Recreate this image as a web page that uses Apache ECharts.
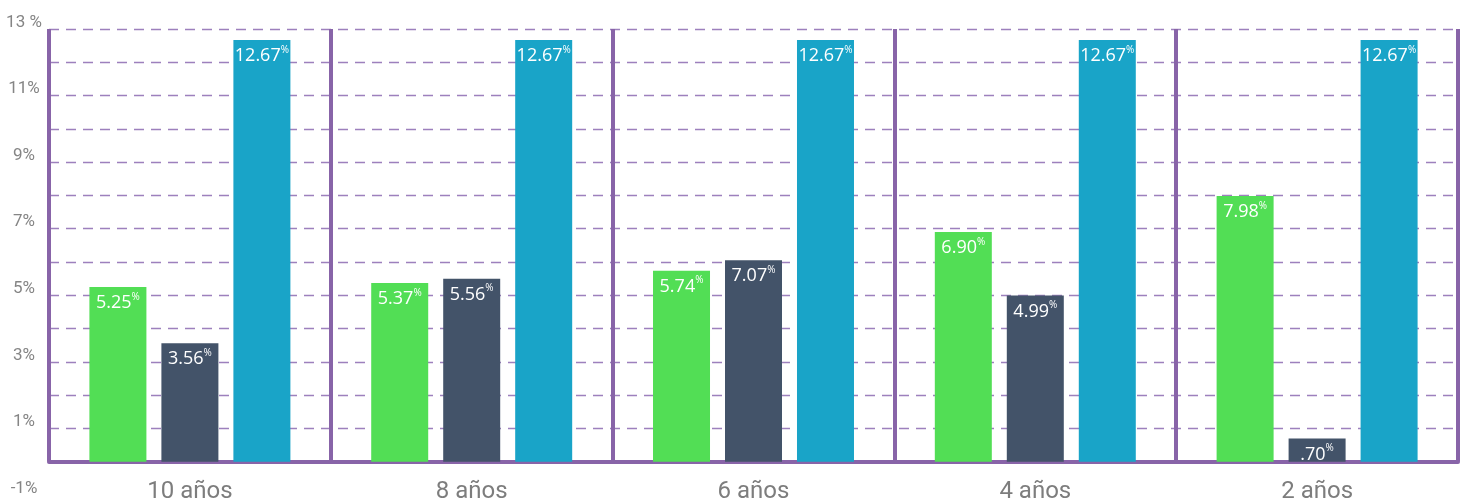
<!DOCTYPE html>
<html>
<head>
<meta charset="utf-8">
<script src="https://cdn.jsdelivr.net/npm/echarts@6/dist/echarts.min.js"></script>
<style>
html,body{margin:0;padding:0;background:#fff;}
#chart{width:1466px;height:504px;}
</style>
</head>
<body>
<div id="chart"></div>
<script>
// ---- data ----
var categories = ['10 años', '8 años', '6 años', '4 años', '2 años'];
var seriesGreen = [5.25, 5.37, 5.74, 6.90, 7.98];
var seriesDark  = [3.56, 5.50, 6.05, 4.99, 0.70];   // bar heights as drawn
var seriesBlue  = [12.67, 12.67, 12.67, 12.67, 12.67];
var labelsGreen = ['5.25', '5.37', '5.74', '6.90', '7.98'];
var labelsDark  = ['3.56', '5.56', '7.07', '4.99', '.70'];
var labelsBlue  = ['12.67', '12.67', '12.67', '12.67', '12.67'];
var yTickValues = [-1, 1, 3, 5, 7, 9, 11, 13];
var yTickLabels = ['-1%', '1%', '3%', '5%', '7%', '9%', '11%', '13 %'];
var separatorPositions = [0, 1, 2, 3, 4, 5];

var purple = '#8864a8';

function barLabel(texts) {
  return {
    show: true,
    position: 'insideTop',
    distance: 5,
    formatter: function (p) { return '{v|' + texts[p.dataIndex] + '}{s|%}'; },
    rich: {
      v: { color: '#fff', fontSize: 18, fontFamily: 'Open Sans', lineHeight: 22 },
      s: { color: '#fff', fontSize: 10, fontFamily: 'Open Sans', verticalAlign: 'top', lineHeight: 22, padding: [0, 0, 9, 0] }
    }
  };
}

var chart = echarts.init(document.getElementById('chart'));
chart.setOption({
  animation: false,
  grid: { left: 49, right: 8, top: 29, bottom: 9, containLabel: false, outerBoundsMode: 'none' },
  xAxis: [{
    type: 'category',
    data: categories,
    axisLine: { onZero: true, lineStyle: { color: purple, width: 4 } },
    axisTick: { show: false },
    axisLabel: { color: '#7d7d7d', fontSize: 24, fontFamily: 'Roboto', margin: -15, lineHeight: 24 },
    splitLine: { show: false }
  }, {
    type: 'value', min: 0, max: 5, show: false
  }],
  yAxis: {
    type: 'value',
    min: -1, max: 13, interval: 1,
    axisLine: { show: false },
    axisTick: { show: false },
    axisLabel: {
      margin: 25, align: 'center', verticalAlign: 'bottom', lineHeight: 13,
      showMinLabel: true, showMaxLabel: true, overflow: 'none',
      formatter: function (v) {
        var i = yTickValues.indexOf(v);
        return i >= 0 ? '{t|' + yTickLabels[i] + '}' : '';
      },
      rich: {
        t: { color: '#858585', fontSize: 17, fontFamily: 'Roboto', lineHeight: 13 }
      }
    },
    splitLine: {
      show: true, showMinLine: false,
      lineStyle: { color: '#9d80bd', width: 1.4, type: [10, 7] }
    }
  },
  series: [{
    type: 'bar', name: 'a', data: seriesGreen, barWidth: 57, barGap: '26.3%',
    itemStyle: { color: '#52de55' }, label: barLabel(labelsGreen)
  }, {
    type: 'bar', name: 'b', data: seriesDark, barWidth: 57, barGap: '26.3%',
    itemStyle: { color: '#435369' }, label: barLabel(labelsDark)
  }, {
    type: 'bar', name: 'c', data: seriesBlue, barWidth: 57, barGap: '26.3%',
    itemStyle: { color: '#19a4c8' }, label: barLabel(labelsBlue)
  }, {
    type: 'line', xAxisIndex: 1, data: [], silent: true, symbol: 'none',
    markLine: {
      silent: true, symbol: 'none', animation: false,
      label: { show: false },
      lineStyle: { color: purple, width: 4, type: 'solid' },
      data: separatorPositions.map(function (x) {
        return [{ coord: [x, 0] }, { coord: [x, 13] }];
      })
    }
  }]
});
</script>
</body>
</html>
